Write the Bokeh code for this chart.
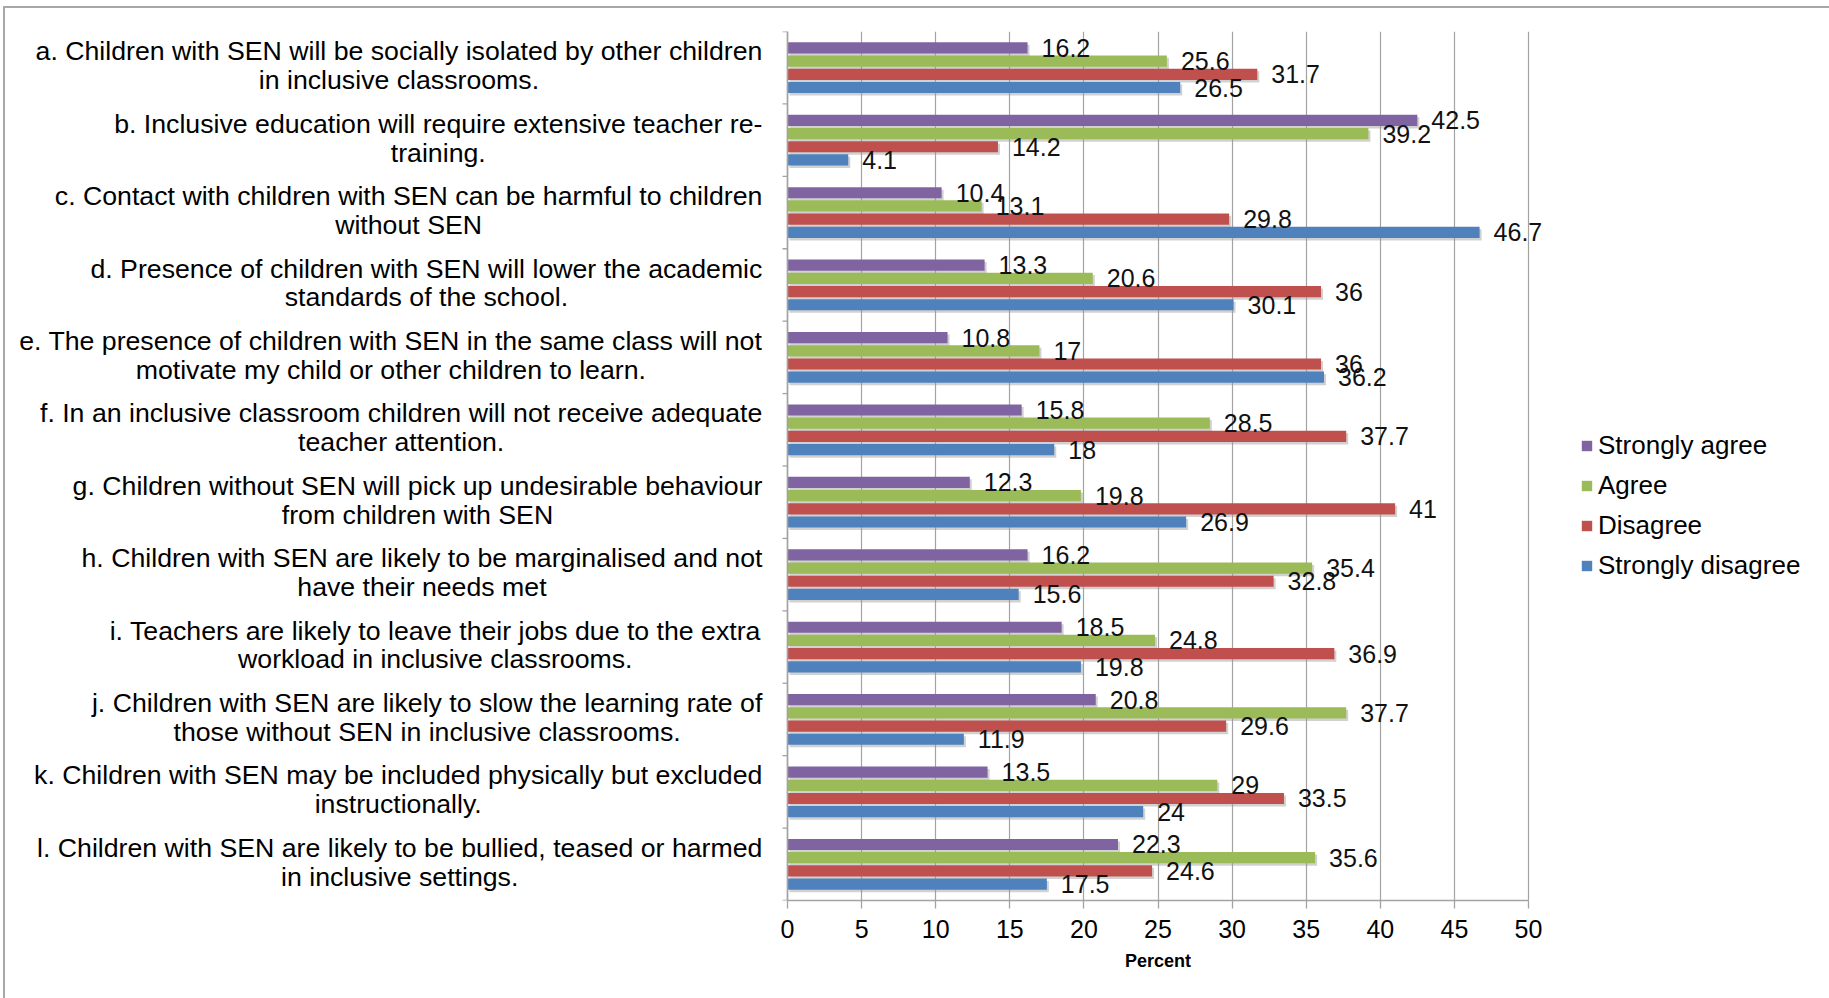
from bokeh.plotting import figure
from bokeh.models import (Range1d, LinearAxis, FixedTicker, Grid, Legend,
                          LegendItem, Title, InlineStyleSheet)
from bokeh.core.properties import value
from bokeh.embed import file_html
from bokeh.resources import INLINE

# ---------------------------------------------------------------- data
statements = [
    ("a. Children with SEN will be socially isolated by other children", "in inclusive classrooms."),
    ("b. Inclusive education will require extensive teacher re-", "training."),
    ("c. Contact with children with SEN can be harmful to children", "without SEN"),
    ("d. Presence of children with SEN will lower the academic", "standards of the school."),
    ("e. The presence of children with SEN in the same class will not", "motivate my child or other children to learn."),
    ("f. In an inclusive classroom children will not receive adequate", "teacher attention."),
    ("g. Children without SEN will pick up undesirable behaviour", "from children with SEN"),
    ("h. Children with SEN are likely to be marginalised and not", "have their needs met"),
    ("i. Teachers are likely to leave their jobs due to the extra", "workload in inclusive classrooms."),
    ("j. Children with SEN are likely to slow the learning rate of", "those without SEN in inclusive classrooms."),
    ("k. Children with SEN may be included physically but excluded", "instructionally."),
    ("l. Children with SEN are likely to be bullied, teased or harmed", "in inclusive settings."),
]

series_names = ["Strongly agree", "Agree", "Disagree", "Strongly disagree"]
strongly_agree = [16.2, 42.5, 10.4, 13.3, 10.8, 15.8, 12.3, 16.2, 18.5, 20.8, 13.5, 22.3]
agree = [25.6, 39.2, 13.1, 20.6, 17, 28.5, 19.8, 35.4, 24.8, 37.7, 29, 35.6]
disagree = [31.7, 14.2, 29.8, 36, 36, 37.7, 41, 32.8, 36.9, 29.6, 33.5, 24.6]
strongly_disagree = [26.5, 4.1, 46.7, 30.1, 36.2, 18, 26.9, 15.6, 19.8, 11.9, 24, 17.5]

x_ticks = [0, 5, 10, 15, 20, 25, 30, 35, 40, 45, 50]
x_title = "Percent"

# ---------------------------------------------------------------- layout
W, H = 1829, 998
PLOT_TOP, PLOT_BOTTOM = 31, 900          # pixel rows of the bar area
X0_PX, XMAX_PX = 787, 1528               # pixel columns of 0 and 50
X_MAX = x_ticks[-1]
N = len(statements)
PPU = (XMAX_PX - X0_PX) / X_MAX          # pixels per percent
PPY = (PLOT_BOTTOM - PLOT_TOP) / N       # pixels per category

BAR_PITCH = 13.2 / PPY
BAR_HEIGHT = 11.2 / PPY
LABEL_GAP = 14 / PPU
SHADOW_DX, SHADOW_DY = 2 / PPU, 2.5 / PPY
CAT_TICK = 5 / PPU
LABEL_RIGHT_PX = 762
LABEL_DY = 2 / PPY

FONT = "Liberation Sans"
CAT_FONT_PX = 26.7
TITLE_FONT_PX = 18
colors = ["#8064A2", "#9BBB59", "#C0504D", "#4F81BD"]
GRID_COLOR = "#a3a3a3"


def px_to_x(px):
    return (px - X0_PX) / PPU


# Arial / Helvetica advance widths (1/1000 em), used to centre text blocks
_groups = {
    278: " !,./:;ftI", 222: "ijl", 333: "-()r", 500: "cksvxyzJ",
    556: "abdeghnopqu0123456789L", 611: "FTZ", 667: "ABEKPSVXY",
    722: "CDHNRUw", 778: "GOQ", 833: "mM", 944: "W",
}
_widths = {ch: w for w, chars in _groups.items() for ch in chars}
# bold face, for the axis title
_bold = {"P": 667, "e": 556, "r": 389, "c": 556, "n": 611, "t": 333}


def text_width(s, size, table=_widths):
    return sum(table.get(ch, 556) for ch in s) / 1000.0 * size


# thin grey rules along the top and left edges of the chart
frame_css = InlineStyleSheet(css="""
:host { position: relative; }
:host::after {
  content: ""; position: absolute; left: 3px; top: 6px; right: 0; bottom: 0;
  border-left: 2px solid #a8a8a8; border-top: 2px solid #a8a8a8;
  pointer-events: none;
}
""")

p = figure(width=W, height=H, output_backend="svg", toolbar_location=None,
           x_range=Range1d(px_to_x(0), px_to_x(W)), y_range=Range1d(0, N),
           x_axis_type=None, y_axis_type=None,
           min_border_left=0, min_border_right=0,
           min_border_top=PLOT_TOP, min_border_bottom=H - PLOT_BOTTOM,
           stylesheets=[frame_css])
p.outline_line_color = None
p.background_fill_color = "white"
p.border_fill_color = "white"

# x axis and vertical gridlines
xaxis = LinearAxis(ticker=FixedTicker(ticks=x_ticks), bounds=(0, X_MAX))
xaxis.axis_line_color = GRID_COLOR
xaxis.axis_line_width = 1.6
xaxis.major_tick_line_color = GRID_COLOR
xaxis.major_tick_line_width = 1.3
xaxis.major_tick_out = 8
xaxis.major_tick_in = 0
xaxis.minor_tick_line_color = None
xaxis.major_label_text_font = FONT
xaxis.major_label_text_font_size = "25px"
xaxis.major_label_text_color = "black"
xaxis.major_label_standoff = 11
p.add_layout(xaxis, "below")

# axis title centred under the 0-50 scale
title_w = text_width(x_title, TITLE_FONT_PX, _bold)
p.add_layout(Title(text=x_title, align="left",
                   offset=(X0_PX + XMAX_PX) / 2 - title_w / 2,
                   text_font=FONT, text_font_size=f"{TITLE_FONT_PX}px",
                   text_font_style="bold", text_color="black", standoff=16),
             "below")

p.add_layout(Grid(dimension=0, ticker=FixedTicker(ticks=x_ticks),
                  grid_line_color=GRID_COLOR, grid_line_width=1.2))

# category axis: ticks between the statements
p.segment(x0=[-CAT_TICK] * (N + 1), y0=list(range(N + 1)),
          x1=[0] * (N + 1), y1=list(range(N + 1)),
          line_color=GRID_COLOR, line_width=1.3)

# bars (top to bottom within each statement: strongly agree .. strongly disagree)
series = [strongly_agree, agree, disagree, strongly_disagree]
offsets = [1.5, 0.5, -0.5, -1.5]
centres = [N - 0.5 - i for i in range(N)]

bar_renderers = []
label_sets = []
for k, vals in enumerate(series):
    ys = [c + offsets[k] * BAR_PITCH for c in centres]
    p.hbar(y=[y - SHADOW_DY for y in ys], left=SHADOW_DX,
           right=[v + SHADOW_DX for v in vals], height=BAR_HEIGHT,
           fill_color="#9a9a9a", fill_alpha=0.45, line_color=None)
    r = p.hbar(y=ys, left=0, right=vals, height=BAR_HEIGHT,
               fill_color=colors[k], line_color=None)
    bar_renderers.append(r)
    label_sets.append((vals, ys))

# vertical rule at 0
p.segment(x0=[0], y0=[0], x1=[0], y1=[N], line_color=GRID_COLOR, line_width=1.6)

# value labels
for vals, ys in label_sets:
    p.text(x=[v + LABEL_GAP for v in vals], y=ys, text=[f"{v:g}" for v in vals],
           text_font=value(FONT), text_font_size="25px", text_color="#111111",
           text_align="left", text_baseline="middle")

# statement labels, each block centred and right-bounded next to the axis
lab_x, lab_y, lab_t = [], [], []
for i, lines in enumerate(statements):
    wmax = max(text_width(line, CAT_FONT_PX) for line in lines)
    lab_x.append(px_to_x(LABEL_RIGHT_PX - wmax / 2))
    lab_y.append(centres[i] + LABEL_DY)
    lab_t.append("\n".join(lines))
p.text(x=lab_x, y=lab_y, text=lab_t, text_font=value(FONT),
       text_font_size=f"{CAT_FONT_PX}px", text_color="black",
       text_align="center", text_baseline="middle", text_line_height=0.96)

# legend
ROW_H, ROW_GAP = 31, 9
legend_h = len(series_names) * ROW_H + (len(series_names) - 1) * ROW_GAP
LEG_TOP = 430
legend = Legend(items=[LegendItem(label=n, renderers=[r])
                       for n, r in zip(series_names, bar_renderers)],
                location=(1580, PLOT_BOTTOM - LEG_TOP - legend_h),
                orientation="vertical", padding=0, margin=0, spacing=ROW_GAP,
                glyph_width=13, glyph_height=13, label_standoff=5,
                label_height=ROW_H, label_text_font=FONT,
                label_text_font_size="26px", label_text_color="black",
                border_line_alpha=0, background_fill_alpha=0)
p.add_layout(legend)

open("out.html", "w").write(file_html(p, INLINE))
